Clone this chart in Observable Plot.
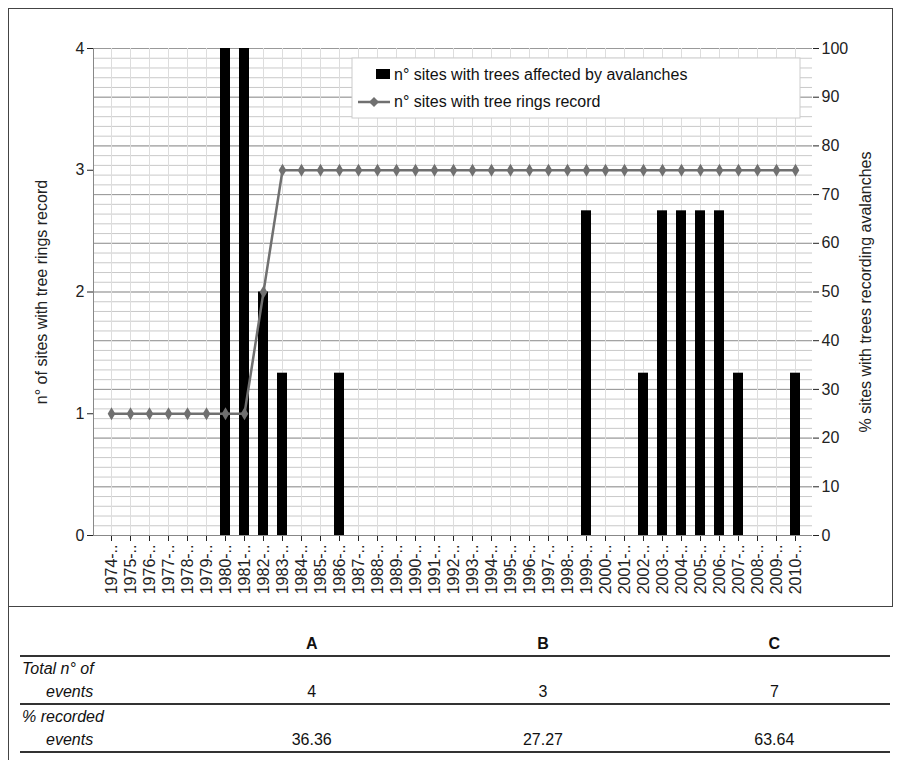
<!DOCTYPE html>
<html><head><meta charset="utf-8">
<script src="https://cdn.jsdelivr.net/npm/d3@7"></script>
<script src="https://cdn.jsdelivr.net/npm/@observablehq/plot@0.6"></script>
<style>
body{margin:0;background:#fff;font-family:Arial,"Liberation Sans",sans-serif;}
#wrap{position:absolute;left:8px;top:8px;width:884px;height:752px;border-left:1px solid #444;}
#frame{position:absolute;left:8px;top:8px;width:884px;height:597px;border:1px solid #444;border-left:none;}
#chart{position:absolute;left:0;top:0;}
table{position:absolute;left:20px;top:632px;width:870px;border-collapse:collapse;font-size:16px;color:#111;}
td,th{padding:0;height:23px;text-align:center;}
th{font-weight:bold;border-bottom:2px solid #333;}
td.l{text-align:left;font-style:italic;padding-left:2px;width:150px}
tr.b td{border-bottom:2px solid #333;}
</style></head><body>
<div id="wrap"></div><div id="frame"></div>
<div id="chart"></div>
<table>
<tr><th></th><th>A</th><th>B</th><th>C</th></tr>
<tr><td class="l">Total n° of</td><td></td><td></td><td></td></tr>
<tr class="b"><td class="l" style="padding-left:26px">events</td><td>4</td><td>3</td><td>7</td></tr>
<tr><td class="l">% recorded</td><td></td><td></td><td></td></tr>
<tr class="b"><td class="l" style="padding-left:26px">events</td><td>36.36</td><td>27.27</td><td>63.64</td></tr>
</table>
<script>
const years = d3.range(1974, 2011);
const affectedPct = [0,0,0,0,0,0,100,100,50,33.33,0,0,33.33,0,0,0,0,0,0,0,0,0,0,0,0,66.67,0,0,33.33,66.67,66.67,66.67,66.67,33.33,0,0,33.33];
const treeRingSites = [1,1,1,1,1,1,1,1,2,3,3,3,3,3,3,3,3,3,3,3,3,3,3,3,3,3,3,3,3,3,3,3,3,3,3,3,3];
const labels = years.map(y => y + "-..");
const bars = years.map((y,i)=>({x:labels[i], v:affectedPct[i]}));
const line = years.map((y,i)=>({x:labels[i], v:treeRingSites[i]*25}));
const plot = Plot.plot({
  width:905, height:612,
  marginLeft:93, marginRight:93, marginTop:48, marginBottom:77,
  style:{fontFamily:"Arial, 'Liberation Sans', sans-serif", fontSize:"16px", color:"#222"},
  x:{type:"band", domain:labels, padding:0.5, label:null},
  y:{domain:[0,100], label:null},
  marks:[
    Plot.gridY(d3.range(0,101,2), {stroke:"#bbb", strokeOpacity:1, strokeWidth:0.8}),
    Plot.gridY(d3.range(0,101,10), {stroke:"#999", strokeOpacity:1}),
    Plot.gridX(labels, {stroke:"#ddd", strokeOpacity:1}),
    Plot.axisY([0,25,50,75,100], {anchor:"left", tickFormat:d=>d/25, tickSize:6, fontSize:16, label:"n° of sites with tree rings record", labelAnchor:"center", labelOffset:58, labelArrow:"none"}),
    Plot.axisY(d3.range(0,101,10), {anchor:"right", tickSize:6, fontSize:16, label:"% sites with trees recording avalanches", labelAnchor:"center", labelOffset:58, labelArrow:"none"}),
    Plot.axisX({tickRotate:-90, tickSize:6, fontSize:16, label:null}),
    Plot.barY(bars, {x:"x", y:"v", fill:"black"}),
    Plot.line(line, {x:"x", y:"v", stroke:"#707070", strokeWidth:2.5}),
    Plot.dot(line, {x:"x", y:"v", symbol:"diamond", r:4, fill:"#707070"}),
    Plot.ruleY([0], {stroke:"#888"}),
    Plot.frame({anchor:"left", stroke:"#888"})
  ]
});
document.getElementById("chart").appendChild(plot);
const svg = d3.select(plot);
const g = svg.append("g").attr("font-size",16).attr("fill","#111").attr("text-anchor","start");
g.append("rect").attr("x",352).attr("y",58).attr("width",448).attr("height",60).attr("fill","white").attr("stroke","#ccc");
g.append("rect").attr("x",376).attr("y",69).attr("width",14).attr("height",10).attr("fill","black");
g.append("text").attr("x",394).attr("y",80).text("n° sites with trees affected by avalanches");
g.append("line").attr("x1",358).attr("x2",390).attr("y1",102).attr("y2",102).attr("stroke","#707070").attr("stroke-width",2.5);
g.append("path").attr("d","M374,97L379,102L374,107L369,102Z").attr("fill","#707070");
g.append("text").attr("x",394).attr("y",107).text("n° sites with tree rings record");
</script>
</body></html>
